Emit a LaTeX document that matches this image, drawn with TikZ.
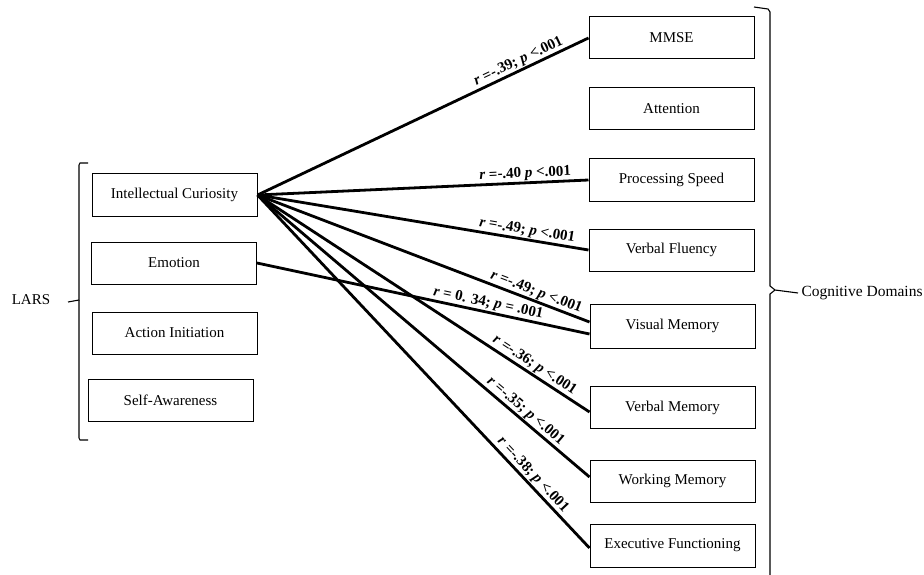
\documentclass[tikz,border=0pt]{standalone}
\usepackage{fontspec}
\setmainfont{Liberation Serif}
\begin{document}
\begin{tikzpicture}[x=1pt,y=-1pt,
  box/.style={draw,line width=1pt,minimum width=165pt,minimum height=42pt,inner sep=0pt,font=\fontsize{15}{17}\selectfont},
  link/.style={line width=2.8pt},
  lab/.style={sloped,above,inner sep=0.8pt,font=\fontsize{15}{16}\selectfont\bfseries},
  brk/.style={line width=1.1pt}]
\useasboundingbox (0,0) rectangle (924,575);
% left boxes
\node[box] (ic) at (174.5,195) {Intellectual Curiosity};
\node[box] (emo) at (174,263) {Emotion};
\node[box] (act) at (174.5,333) {Action Initiation};
\node[box] (self) at (170.5,400.5) {Self-Awareness};
% right boxes
\node[box] (mmse) at (671.5,38) {MMSE};
\node[box] (att) at (671.5,109) {Attention};
\node[box] (ps) at (671.5,180) {Processing Speed};
\node[box] (vf) at (671.5,250) {Verbal Fluency};
\node[box,minimum height=44pt] (vm) at (672.5,326) {Visual Memory};
\node[box] (vbm) at (672.5,407.5) {Verbal Memory};
\node[box] (wm) at (672.5,481) {Working Memory};
\node[box,minimum height=43pt] (ef) at (672.5,545.5) {Executive Functioning};
% group labels
\node[font=\fontsize{15}{17}\selectfont] (lars) at (31,300) {LARS};
\node[font=\fontsize{15.5}{17}\selectfont,anchor=west] (cd) at (798,293) {Cognitive Domains};
% brackets
\coordinate (lb1) at (88,163);
\coordinate (lb2) at (88,440);
\draw[brk] (lb1) -- (80,163) -- (79,165) -- (79,300) -- (68,302);
\draw[brk] (79,300) -- (79,438) -- (80,440) -- (lb2);
\draw[brk] (754,7) -- (768,9) -- (770,12) -- (770,286) -- (775,290) -- (cd.west);
\draw[brk] (775,290) -- (770,294) -- (770,575);
% connectors
\draw[link] (ic.east) -- (mmse.west) node[lab,pos=0.8] {\textit{r} =-.39; \textit{p} <.001};
\draw[link] (ic.east) -- (ps.west) node[lab,pos=0.81] {\textit{r} =-.40 \textit{p} <.001};
\draw[link] (ic.east) -- (vf.west) node[lab,pos=0.81] {\textit{r} =-.49; \textit{p} <.001};
\draw[link] (ic.east) -- ([yshift=4pt]vm.west) node[lab,pos=0.83] {\textit{r} =-.49; \textit{p} <.001};
\draw[link] (emo.east) -- ([yshift=-8pt]vm.west) node[lab,pos=0.69] {\textit{r} = 0. 34; \textit{p} = .001};
\draw[link] (ic.east) -- ([yshift=-4.5pt]vbm.west) node[lab,pos=0.82] {\textit{r} =-.36; \textit{p} <.001};
\draw[link] (ic.east) -- ([yshift=4pt]wm.west) node[lab,pos=0.79] {\textit{r} =-.35; \textit{p} <.001};
\draw[link] (ic.east) -- ([yshift=-2.5pt]ef.west) node[lab,pos=0.81] {\textit{r} =-.38; \textit{p} <.001};
\end{tikzpicture}
\end{document}
